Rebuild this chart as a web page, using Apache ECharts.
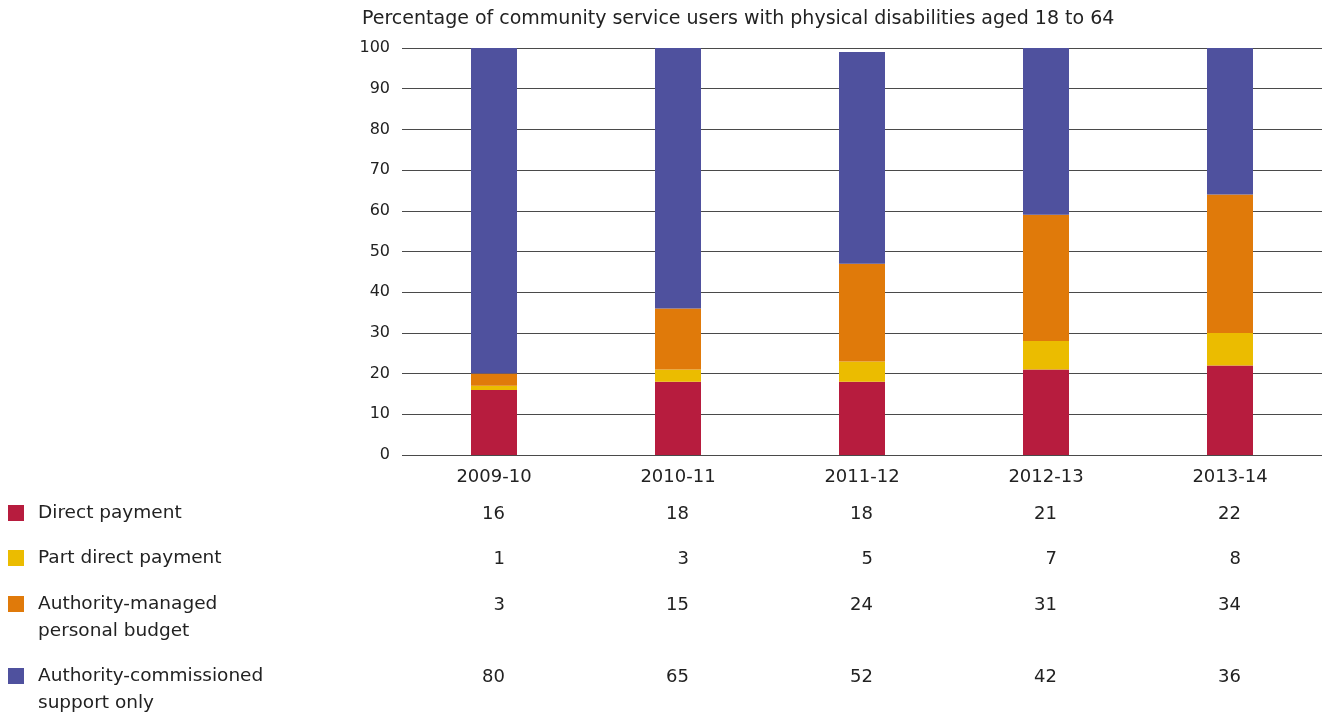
<!DOCTYPE html>
<html>
<head>
<meta charset="utf-8">
<script src="https://cdn.jsdelivr.net/npm/echarts@6/dist/echarts.min.js"></script>
<style>
  html, body { margin: 0; padding: 0; background: #fff; }
  #chart { width: 1328px; height: 715px; }
</style>
</head>
<body>
<div id="chart"></div>
<script>
// Years shown along the category axis
const years = ['2009-10', '2010-11', '2011-12', '2012-13', '2013-14'];

// Share of service users (%) by type of support
const directPayment = [16, 18, 18, 21, 22];
const partDirectPayment = [1, 3, 5, 7, 8];
const authorityManagedBudget = [3, 15, 24, 31, 34];
const authorityCommissioned = [80, 65, 52, 42, 36];

const seriesNames = [
  'Direct payment',
  'Part direct payment',
  'Authority-managed\npersonal budget',
  'Authority-commissioned\nsupport only'
];
const seriesValues = [directPayment, partDirectPayment, authorityManagedBudget, authorityCommissioned];
const seriesColors = ['#B71C3E', '#EBBC00', '#E07A0A', '#4F519E'];

// Vertical position of each table row (legend square + values)
const rowY = [513, 558, 604, 676];

const FONT = 'DejaVu Sans';
const TEXT = '#222';

const chart = echarts.init(document.getElementById('chart'));

const option = {
  animation: false,
  textStyle: { fontFamily: FONT },
  title: {
    text: 'Percentage of community service users with physical disabilities aged 18 to 64',
    left: 357,
    top: 5,
    textStyle: { fontFamily: FONT, fontSize: 19, fontWeight: 'normal', color: TEXT }
  },
  grid: { left: 402, right: 6, top: 48, bottom: 260 },
  xAxis: {
    type: 'category',
    data: years,
    axisLine: { show: false },
    axisTick: { show: false },
    axisLabel: { fontSize: 18, color: TEXT, margin: 13 }
  },
  yAxis: {
    type: 'value',
    min: 0,
    max: 100,
    interval: 10,
    axisLine: { show: false },
    axisTick: { show: false },
    axisLabel: { fontSize: 16, color: TEXT, margin: 12 },
    splitLine: { lineStyle: { color: '#4a4a4a', width: 1 } }
  },
  series: seriesValues.map((vals, i) => ({
    type: 'bar',
    name: seriesNames[i],
    stack: 'total',
    data: vals,
    barWidth: 46,
    itemStyle: { color: seriesColors[i] },
    z: 3
  }))
};

chart.setOption(option);

// Legend squares, row labels and the value table under each year
const graphics = [];
seriesNames.forEach((name, i) => {
  graphics.push({
    type: 'rect',
    shape: { x: 8, y: rowY[i] - 8, width: 16, height: 16 },
    style: { fill: seriesColors[i] }
  });
  graphics.push({
    type: 'text',
    x: 38,
    y: rowY[i] - 13,
    style: {
      text: name,
      font: '18.5px "' + FONT + '"',
      fill: TEXT,
      lineHeight: 27,
      textVerticalAlign: 'top'
    }
  });
  seriesValues[i].forEach((v, j) => {
    const px = chart.convertToPixel({ xAxisIndex: 0 }, years[j]);
    graphics.push({
      type: 'text',
      x: px + 11,
      y: rowY[i] + 1,
      style: {
        text: String(v),
        font: '18px "' + FONT + '"',
        fill: TEXT,
        align: 'right',
        verticalAlign: 'middle'
      }
    });
  });
});

chart.setOption({ graphic: graphics });
</script>
</body>
</html>
